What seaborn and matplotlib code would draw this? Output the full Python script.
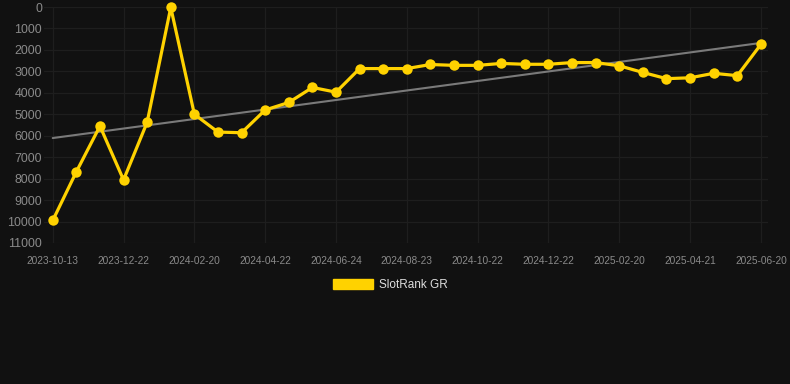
import numpy as np
import pandas as pd
import matplotlib
matplotlib.use("Agg")
import matplotlib.pyplot as plt
import seaborn as sns
from matplotlib.patches import Patch

dates = ["2023-10-13", "2023-11-05", "2023-11-28", "2023-12-22", "2024-01-11", "2024-01-31",
         "2024-02-20", "2024-03-12", "2024-04-01", "2024-04-22", "2024-05-13", "2024-06-03",
         "2024-06-24", "2024-07-14", "2024-08-03", "2024-08-23", "2024-09-12", "2024-10-02",
         "2024-10-22", "2024-11-11", "2024-12-01", "2024-12-22", "2025-01-11", "2025-01-31",
         "2025-02-20", "2025-03-12", "2025-04-01", "2025-04-21", "2025-05-11", "2025-05-31",
         "2025-06-20"]
ranks = [9950, 7680, 5550, 8060, 5370, 20, 5000, 5830, 5860, 4800, 4450, 3750,
         3970, 2870, 2870, 2870, 2680, 2720, 2720, 2630, 2670, 2670, 2590, 2590,
         2740, 3050, 3340, 3300, 3090, 3200, 1740]
series_name = "SlotRank GR"
y_ticks = list(range(0, 11001, 1000))

bg = "#111111"
gold = "#FFD200"
sns.set_theme(style="dark")
plt.rcParams["font.family"] = ["Liberation Sans", "DejaVu Sans"]

df = pd.DataFrame({"idx": np.arange(len(dates)), "date": dates, "rank": ranks})

fig = plt.figure(figsize=(7.9, 3.84), dpi=100, facecolor=bg)
ax = fig.add_axes([44 / 790, 1 - 243 / 384, (768 - 44) / 790, (243 - 7) / 384])
ax.set_facecolor(bg)

# trend line (linear fit)
sns.regplot(data=df, x="idx", y="rank", ax=ax, scatter=False, ci=None, truncate=True,
            line_kws=dict(color="#7a7a7a", lw=1.5, zorder=2))

sns.lineplot(data=df, x="idx", y="rank", ax=ax, color=gold, lw=2.3, marker="o",
             markersize=7.5, markeredgewidth=0, zorder=3, clip_on=False)

ax.set_ylim(11000, 0)
ax.set_xlim(-0.37, len(dates) - 1 + 0.3)
ax.set_yticks(y_ticks)
ax.set_yticklabels([str(t) for t in y_ticks])
xt = list(range(0, len(dates), 3))
ax.set_xticks(xt)
ax.set_xticklabels([dates[i] for i in xt])
ax.tick_params(axis="y", colors="#8a8a8a", labelsize=8.9, length=0, pad=1.5)
ax.tick_params(axis="x", colors="#8a8a8a", labelsize=7.3, length=6, pad=3, color="#222222")
ax.grid(True, color="#1e1e1e", lw=0.9)
ax.set_axisbelow(True)
for s in ax.spines.values():
    s.set_visible(False)
ax.set_xlabel("")
ax.set_ylabel("")

handle = Patch(facecolor=gold, edgecolor=gold)
leg = fig.legend([handle], [series_name], loc="center", bbox_to_anchor=(390 / 790, 1 - 285 / 384),
                 frameon=False, fontsize=8.5, handlelength=3.4, handleheight=0.93,
                 labelcolor="#dddddd", handletextpad=0.5)

fig.savefig("out.png", dpi=100, facecolor=bg)
